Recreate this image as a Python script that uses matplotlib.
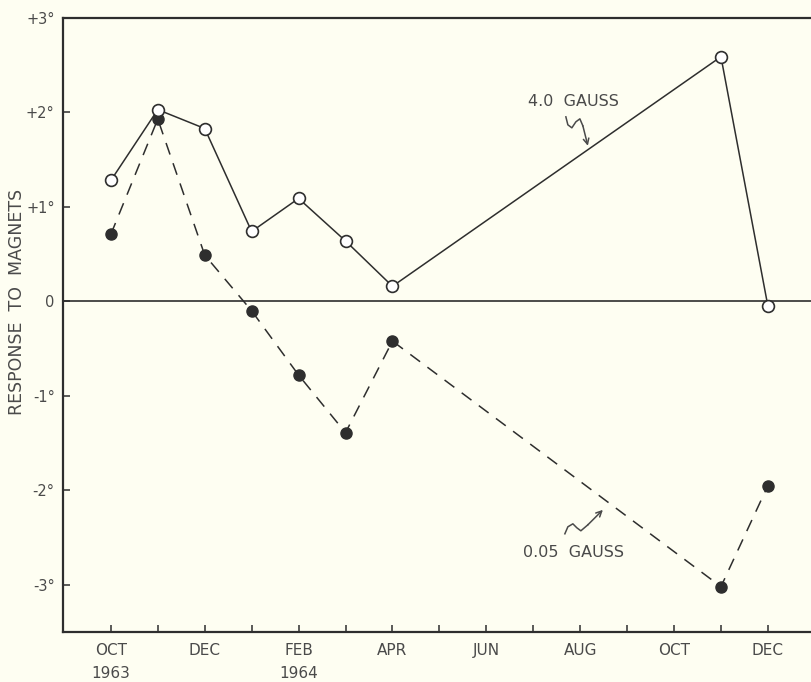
import numpy as np
import matplotlib
matplotlib.use('Agg')
import matplotlib.pyplot as plt
import matplotlib.transforms as mtransforms

# meses contados desde OCT 1963 (0) hasta DEC 1964 (14)
mes_alto = [0, 1, 2, 3, 4, 5, 6, 13, 14]
resp_alto = [1.28, 2.03, 1.83, 0.74, 1.09, 0.64, 0.16, 2.59, -0.05]   # 4.0 gauss

mes_bajo = [0, 1, 2, 3, 4, 5, 6, 13, 14]
resp_bajo = [0.71, 1.93, 0.49, -0.10, -0.78, -1.39, -0.42, -3.02, -1.95]  # 0.05 gauss

meses_pos = [0, 2, 4, 6, 8, 10, 12, 14]
meses_txt = ['OCT', 'DEC', 'FEB', 'APR', 'JUN', 'AUG', 'OCT', 'DEC']
anios_pos = [0, 4]
anios_txt = ['1963', '1964']

y_pos = [-3, -2, -1, 0, 1, 2, 3]
y_txt = ['-3°', '-2°', '-1°', '0', '+1°', '+2°', '+3°']

fondo = '#fefef2'
tinta = '#2e2e2e'
gris = '#4a4a4a'

fig = plt.figure(figsize=(8.12, 6.82), dpi=100, facecolor=fondo)
ax = fig.add_axes([63/812, 50/682, 1 - 63/812, 614/682], facecolor=fondo)

ax.set_xlim(-1.02, 14.94)
ax.set_ylim(-3.5, 3.0)

ax.axhline(0, color=tinta, lw=1.2, zorder=1)

ax.plot(mes_bajo, resp_bajo, color=tinta, lw=1.1, dashes=(8, 6),
        marker='o', markersize=8, markerfacecolor=tinta, markeredgecolor=tinta, zorder=3)
ax.plot(mes_alto, resp_alto, color=tinta, lw=1.1,
        marker='o', markersize=8.5, markerfacecolor='white', markeredgecolor=tinta,
        markeredgewidth=1.2, zorder=4)

for s in ['left', 'bottom', 'top']:
    ax.spines[s].set_linewidth(1.6)
    ax.spines[s].set_color(tinta)
ax.spines['right'].set_visible(False)

ax.set_xticks(meses_pos)
ax.set_xticks([m for m in range(15) if m not in meses_pos], minor=True)
ax.set_xticklabels(meses_txt)
ax.set_yticks(y_pos)
ax.set_yticklabels(y_txt)
ax.tick_params(axis='x', which='both', direction='in', length=5, width=1.1,
               color=tinta, labelcolor=gris, labelsize=11, pad=8)
ax.tick_params(axis='y', direction='in', length=5, width=1.1,
               color=tinta, labelcolor=gris, labelsize=10.5, pad=6)
ax.tick_params(axis='x', which='minor', labelbottom=False)

tr = mtransforms.blended_transform_factory(ax.transData, fig.transFigure)
for p, t in zip(anios_pos, anios_txt):
    ax.text(p, 9/682, t, transform=tr, ha='center', va='center',
            fontsize=11, color=gris)

fig.text(17/812, (682 - 302)/682, 'RESPONSE  TO  MAGNETS', rotation=90,
         ha='center', va='center', fontsize=12.5, color=gris)

# etiquetas con flecha ondulada
def px(xp, yp):
    return (xp - 111) / 46.93, (302 - yp) / 94.7

ax.text(*px(574, 102), '4.0  GAUSS', ha='center', va='center', fontsize=11.5, color=gris)
onda = [px(566, 117), px(568, 125), px(572, 128), px(576, 122), px(580, 119), px(583, 126)]
ax.plot([a for a, b in onda], [b for a, b in onda], color=gris, lw=1.1)
ax.annotate('', xy=px(588, 146), xytext=px(583, 126),
            arrowprops=dict(arrowstyle='->', color=gris, lw=1.1, shrinkA=0, shrinkB=0))

ax.text(*px(574, 554), '0.05  GAUSS', ha='center', va='center', fontsize=11.5, color=gris)
onda2 = [px(565, 535), px(568, 528), px(573, 525), px(577, 529), px(581, 532), px(588, 526)]
ax.plot([a for a, b in onda2], [b for a, b in onda2], color=gris, lw=1.1)
ax.annotate('', xy=px(603, 511), xytext=px(588, 526),
            arrowprops=dict(arrowstyle='->', color=gris, lw=1.1, shrinkA=0, shrinkB=0))

fig.savefig('out.png', dpi=100, facecolor=fondo)
